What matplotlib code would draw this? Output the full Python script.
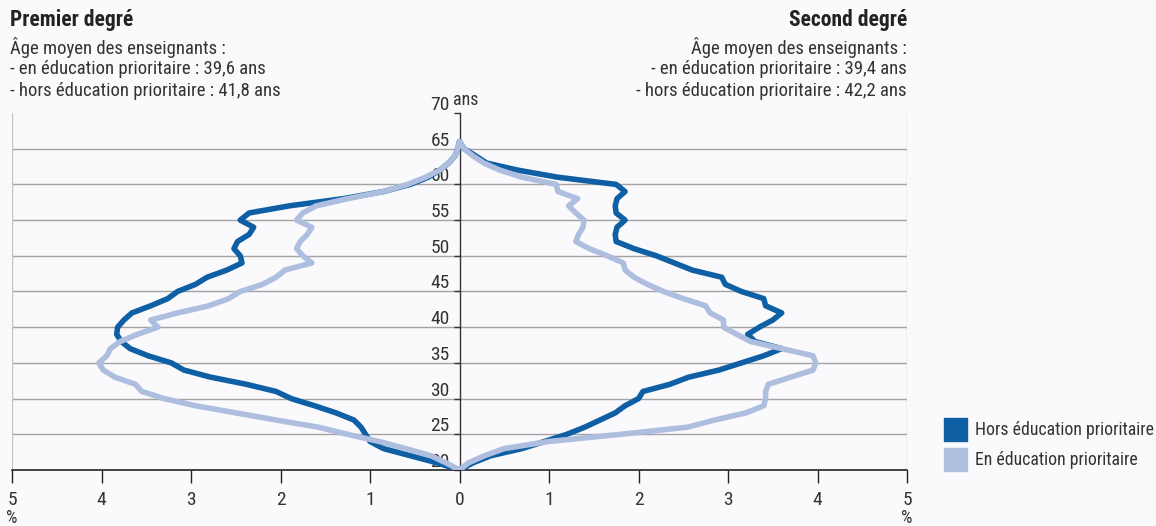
import numpy as np
import matplotlib
matplotlib.use("Agg")
import matplotlib.pyplot as plt
from matplotlib import font_manager
from matplotlib.patches import Rectangle
from matplotlib.transforms import ScaledTranslation

W, H = 1156, 526

# ages 20 -> 66
ages = list(range(20, 67))

# premier degre (drawn to the left)
prem_hors = [0.0, 0.25, 0.55, 0.85, 1.0, 1.05, 1.1, 1.18, 1.38, 1.62,
             1.88, 2.05, 2.38, 2.78, 3.08, 3.22, 3.48, 3.68, 3.78, 3.83,
             3.82, 3.75, 3.66, 3.45, 3.26, 3.15, 2.95, 2.82, 2.6, 2.43,
             2.45, 2.52, 2.48, 2.35, 2.3, 2.45, 2.35, 1.9, 1.3, 0.85,
             0.55, 0.35, 0.22, 0.12, 0.05, 0.02, 0.0]
prem_ep = [0.0, 0.15, 0.32, 0.6, 0.9, 1.25, 1.58, 2.05, 2.5, 2.95,
           3.3, 3.55, 3.62, 3.85, 3.98, 4.03, 3.94, 3.9, 3.79, 3.6,
           3.37, 3.45, 3.15, 2.8, 2.58, 2.45, 2.2, 2.05, 1.95, 1.65,
           1.75, 1.82, 1.78, 1.7, 1.65, 1.82, 1.75, 1.6, 1.25, 0.85,
           0.58, 0.38, 0.22, 0.12, 0.05, 0.02, 0.0]

# second degre (drawn to the right)
sec_hors = [0.0, 0.15, 0.35, 0.7, 0.95, 1.2, 1.4, 1.57, 1.74, 1.85,
            2.0, 2.05, 2.35, 2.56, 2.9, 3.15, 3.4, 3.6, 3.3, 3.22,
            3.35, 3.5, 3.6, 3.42, 3.4, 3.15, 2.97, 2.93, 2.6, 2.4,
            2.2, 1.95, 1.75, 1.74, 1.76, 1.85, 1.75, 1.74, 1.76, 1.85,
            1.75, 1.1, 0.65, 0.3, 0.18, 0.05, 0.0]
sec_ep = [0.0, 0.1, 0.28, 0.5, 1.0, 1.8, 2.55, 2.85, 3.2, 3.4,
          3.42, 3.42, 3.45, 3.7, 3.95, 3.98, 3.95, 3.6, 3.25, 3.1,
          2.95, 2.95, 2.8, 2.75, 2.5, 2.28, 2.1, 1.95, 1.85, 1.83,
          1.65, 1.45, 1.3, 1.33, 1.38, 1.39, 1.3, 1.22, 1.32, 1.1,
          1.08, 0.7, 0.45, 0.27, 0.15, 0.05, 0.0]

x_ticks = [-5, -4, -3, -2, -1, 0, 1, 2, 3, 4, 5]
y_ticks = [20, 25, 30, 35, 40, 45, 50, 55, 60, 65, 70]
legend_labels = ["Hors éducation prioritaire", "En éducation prioritaire"]

DARK = "#0e5fa4"
LIGHT = "#adbedf"
BG = "#fafafc"

names = {f.name for f in font_manager.fontManager.ttflist}
fam = "Roboto"
for cand in ["Liberation Sans Narrow", "Roboto Condensed", "Roboto"]:
    if cand in names:
        fam = cand
        break
plt.rcParams["font.family"] = [fam, "DejaVu Sans"]

fig = plt.figure(figsize=(W / 100, H / 100), dpi=100, facecolor=BG)
ax = fig.add_axes([12 / W, 1 - 470 / H, (907 - 12) / W, (470 - 113) / H])
ax.set_facecolor(BG)
ax.set_xlim(-5, 5)
ax.set_ylim(20, 70)

# grid
for y in y_ticks[1:-1]:
    ax.plot([-5, 5], [y, y], color="#a3a3a3", lw=1, zorder=1)
for x in (-5, 5):
    ax.plot([x, x], [20, 70], color="#c4c4c4", lw=1, zorder=1)

kw = dict(lw=4, solid_joinstyle="round", solid_capstyle="round")
ax.plot(-np.array(prem_hors), ages, color=DARK, zorder=4, **kw)
ax.plot(-np.array(prem_ep), ages, color=LIGHT, zorder=5, **kw)
ax.plot(sec_hors, ages, color=DARK, zorder=4, **kw)
ax.plot(sec_ep, ages, color=LIGHT, zorder=5, **kw)

for s in ("top", "right"):
    ax.spines[s].set_visible(False)
ax.spines["left"].set_position(("data", 0))
ax.spines["left"].set_color("#333333")
ax.spines["left"].set_linewidth(1)
ax.spines["bottom"].set_color("#222222")
ax.spines["bottom"].set_linewidth(1.2)
ax.spines["left"].set_zorder(3)

ax.set_xticks(x_ticks)
ax.set_xticklabels([str(abs(v)) for v in x_ticks])
ax.set_yticks(y_ticks)
ax.set_yticklabels([str(v) for v in y_ticks])
ax.tick_params(axis="x", direction="out", length=9, width=1, color="#222222",
               labelsize=14, labelcolor="#333333", pad=6)
ax.tick_params(axis="y", direction="out", length=4, width=1, color="#333333",
               labelsize=14, labelcolor="#333333", pad=3)
for lab in ax.get_yticklabels():
    lab.set_transform(lab.get_transform() + ScaledTranslation(0, 10 / 100, fig.dpi_scale_trans))

ax.text(-0.07, 70.6, "ans", fontsize=13, color="#333333", ha="left", va="bottom")
for x in (-5, 5):
    ax.annotate("%", xy=(x, 20), xytext=(0, -48), textcoords="offset pixels",
                ha="center", va="center", fontsize=13, color="#333333",
                annotation_clip=False)


def ftext(px, py, s, **kw):
    fig.text(px / W, 1 - py / H, s, **kw)


ftext(10, 20, "Premier degré", fontsize=15.5, fontweight="bold", color="#222222",
      ha="left", va="center")
ftext(907, 20, "Second degré", fontsize=15.5, fontweight="bold", color="#222222",
      ha="right", va="center")
left_lines = ["Âge moyen des enseignants :",
              "- en éducation prioritaire : 39,6 ans",
              "- hors éducation prioritaire : 41,8 ans"]
right_lines = ["Âge moyen des enseignants :",
               "- en éducation prioritaire : 39,4 ans",
               "- hors éducation prioritaire : 42,2 ans"]
for i, (a, b) in enumerate(zip(left_lines, right_lines)):
    ftext(10, 48 + 21.5 * i, a, fontsize=13.5, color="#333333", ha="left", va="center")
    ftext(907, 48 + 21.5 * i, b, fontsize=13.5, color="#333333", ha="right", va="center")

# legend
for i, (lab, col) in enumerate(zip(legend_labels, [DARK, LIGHT])):
    y0 = 418 + 30 * i
    fig.patches.append(Rectangle((944 / W, 1 - (y0 + 23) / H), 23 / W, 23 / H,
                                 transform=fig.transFigure, color=col))
    ftext(975, y0 + 12, lab, fontsize=12.8, color="#333333", ha="left", va="center")

fig.savefig("out.png", dpi=100, facecolor=BG)
